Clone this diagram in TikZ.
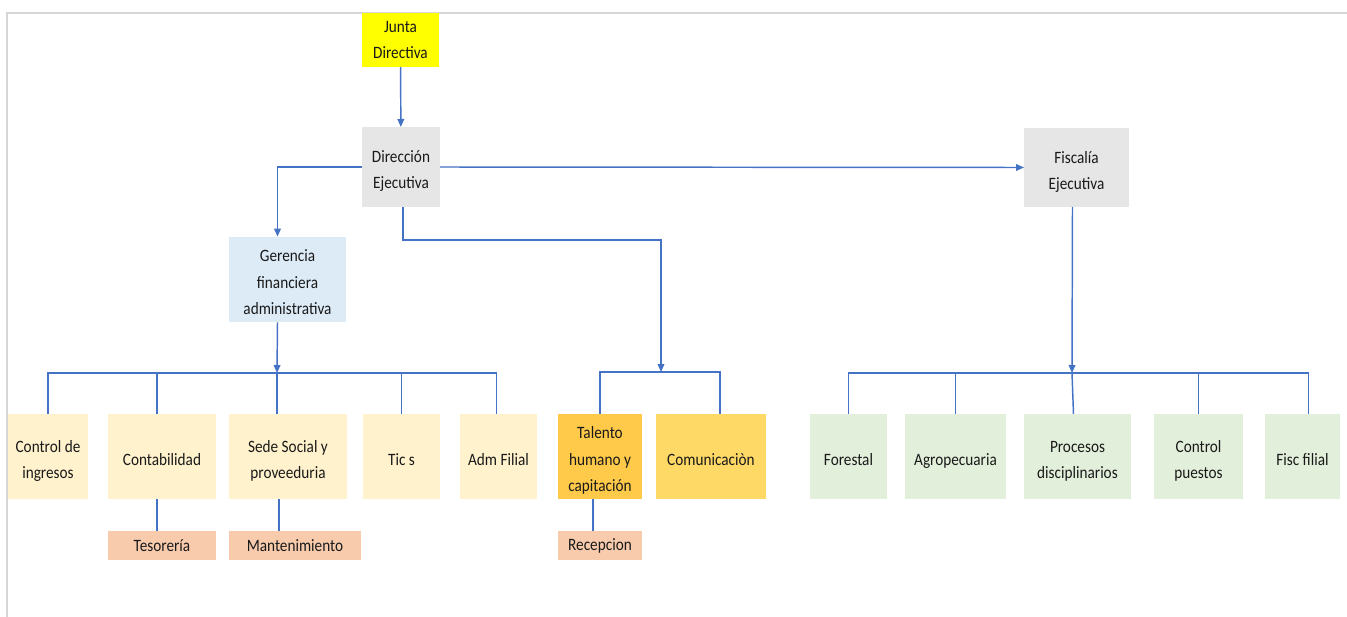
\documentclass[tikz,border=0pt]{standalone}
\usepackage{fontspec}
\setmainfont{Carlito}[FakeStretch=0.88]
\usetikzlibrary{arrows.meta,calc}

\definecolor{lineblue}{HTML}{4472C4}
\definecolor{boardyellow}{HTML}{FFFF00}
\definecolor{execgray}{HTML}{E7E6E6}
\definecolor{finblue}{HTML}{DDEBF7}
\definecolor{adminbeige}{HTML}{FFF2CC}
\definecolor{talentorange}{HTML}{FFCA4A}
\definecolor{commorange}{HTML}{FFD966}
\definecolor{subsalmon}{HTML}{F8CBAD}
\definecolor{fiscgreen}{HTML}{E2EFDA}
\definecolor{framegray}{HTML}{D6D6D6}

% box given by its corners in pixel units: [text style] fill, x1, y1, x2, y2, name, text
\newcommand\orgbox[8][tall]{%
  \node[unit, fill=#2, minimum width={(#5-#3)*0.75pt}, minimum height={(#6-#4)*0.75pt}]
    (#7) at ({(#3+#5)/2},{(#4+#6)/2}) {\csname text#1\endcsname{#8}};}
% centred lines, set a little below the middle of the box
\newcommand\texttall[1]{\begin{tabular}{@{}c@{}}\rule{0pt}{19pt}#1\end{tabular}}
% centred lines, in the middle of the box
\newcommand\textmid[1]{\begin{tabular}{@{}c@{}}#1\end{tabular}}
% a single line
\newcommand\textflat[1]{#1}

\tikzset{
  unit/.style={inner sep=0pt, outer sep=0pt, text=black!90,
    font=\fontsize{13}{19.7}\selectfont},
  conn/.style={draw=lineblue, line width=1.1pt},
  arrowed/.style={conn, -{Triangle[length=6pt,width=5pt]}},
}

\begin{document}
\begin{tikzpicture}[x=0.75pt,y=-0.75pt]
\useasboundingbox (0,0) rectangle (1347,617);

% page frame (top and left edges)
\draw[framegray, line width=1.5pt] (7,617) -- (7,13) -- (1347,13);

% top levels
\orgbox[mid]{boardyellow}{362}{13}{439}{67}{junta}{Junta\\Directiva}
\orgbox{execgray}{362}{127}{440}{207}{dir}{Dirección\\Ejecutiva}
\orgbox{execgray}{1024}{128}{1129}{207}{fis}{Fiscalía\\Ejecutiva}
\orgbox{finblue}{229}{237}{346}{322}{ger}{Gerencia\\financiera\\administrativa}

% administrative units
\orgbox{adminbeige}{8}{414}{88}{499}{ctrl}{Control de\\ingresos}
\orgbox{adminbeige}{108}{414}{216}{499}{cont}{Contabilidad}
\orgbox{adminbeige}{229}{414}{347}{499}{sede}{Sede Social y\\proveeduria}
\orgbox{adminbeige}{363}{414}{440}{499}{tics}{Tic s}
\orgbox{adminbeige}{460}{414}{537}{499}{adm}{Adm Filial}

% units under the executive direction
\orgbox{talentorange}{558}{414}{642}{499}{tal}{Talento\\humano y\\capitación}
\orgbox{commorange}{656}{414}{766}{499}{com}{Comunicaciòn}

% fiscal units
\orgbox{fiscgreen}{810}{414}{887}{499}{for}{Forestal}
\orgbox{fiscgreen}{905}{414}{1006}{499}{agr}{Agropecuaria}
\orgbox{fiscgreen}{1024}{414}{1131}{499}{pro}{Procesos\\disciplinarios}
\orgbox{fiscgreen}{1154}{414}{1243}{499}{cpu}{Control\\puestos}
\orgbox{fiscgreen}{1265}{414}{1340}{499}{ffi}{Fisc filial}

% third level
\orgbox[flat]{subsalmon}{108}{531}{216}{560}{tes}{Tesorería}
\orgbox[flat]{subsalmon}{229}{531}{361}{560}{man}{Mantenimiento}
\orgbox[flat]{subsalmon}{558}{531}{642}{560}{rec}{Recepcion}

% bus coordinates
\coordinate (gbus) at (277,373);
\coordinate (tbus) at (661,372);
\coordinate (fbus) at (1072,373);

% links from the top
\draw[arrowed] (junta) -- (dir);
\draw[arrowed] (dir.west) -| ($(ger.north)+(-10,0)$);
\draw[arrowed] (dir.east) -- (fis.west);
\draw[arrowed] ($(dir.south)+(2,0)$) -- ++(0,33) -| (tbus);
\draw[arrowed] ($(ger.south)+(-10,0)$) -- (gbus);
\draw[arrowed] ($(fis.south)+(-4,0)$) -- (fbus);

% administrative bus
\draw[conn] (ctrl.north) |- (gbus) -| ($(adm.north)+(-2,0)$);
\draw[conn] ($(cont.north)+(-5,0)$) -- ($(cont.north |- gbus)+(-5,0)$);
\draw[conn] ($(sede.north)+(-11,0)$) -- (gbus);
\draw[conn] (tics.north) -- (tics.north |- gbus);

% executive bus
\draw[conn] (tal.north) |- (tbus) -| ($(com.north)+(9,0)$);

% fiscal bus
\draw[conn] (for.north) |- (fbus) -| ($(ffi.north)+(6,0)$);
\draw[conn] (agr.north) -- (agr.north |- fbus);
\draw[conn] ($(pro.north)+(-4,0)$) -- (fbus);
\draw[conn] (cpu.north) -- (cpu.north |- fbus);

% third-level links
\draw[conn] ($(cont.south)+(-5,0)$) -- ($(tes.north)+(-5,0)$);
\draw[conn] ($(sede.south)+(-9,0)$) -- ($(man.north)+(-16,0)$);
\draw[conn] ($(tal.south)+(-7,0)$) -- ($(rec.north)+(-7,0)$);
\end{tikzpicture}
\end{document}
